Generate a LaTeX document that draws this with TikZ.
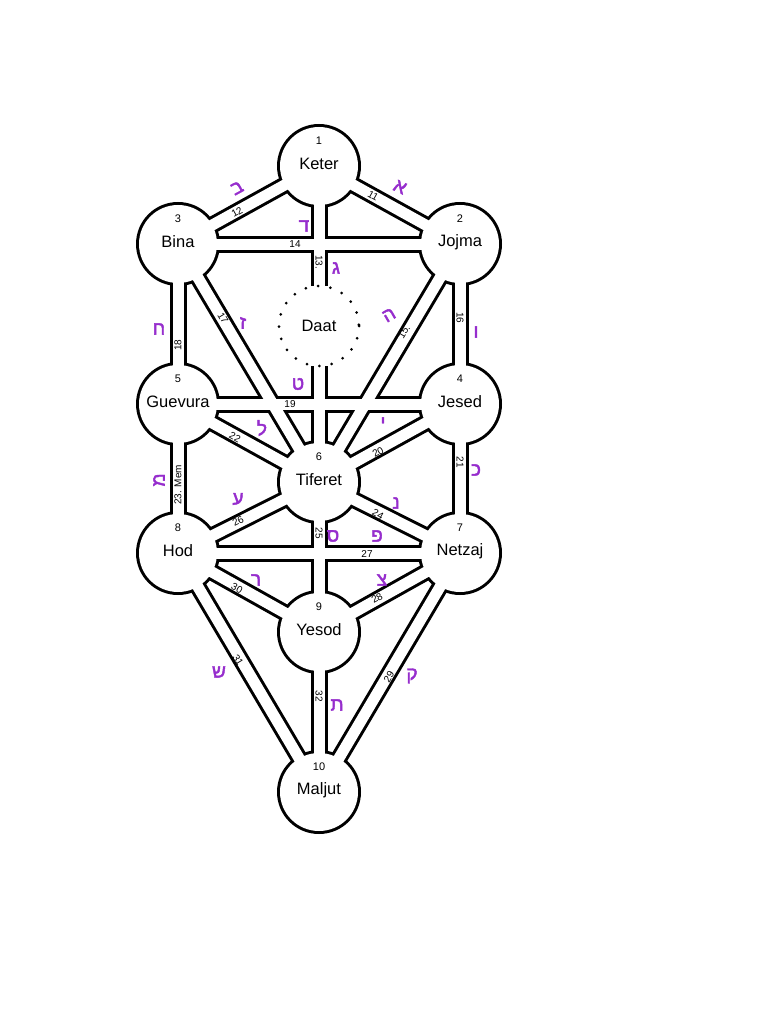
\documentclass[tikz,border=0pt]{standalone}
\usepackage{fontspec}
\setmainfont{Liberation Sans}
\newfontfamily\hebfont[Script=Hebrew, FakeBold=2.2]{Liberation Sans}
\TeXXeTstate=1
\usetikzlibrary{positioning}

\definecolor{letterpurple}{RGB}{150,45,205}

\begin{document}
\begin{tikzpicture}[
  x=1pt, y=-1pt,
  wall/.style={line width=17pt, draw=black},
  hollow/.style={line width=11pt, draw=white},
  sefname/.style={font=\fontsize{16.5}{18}\selectfont, inner sep=0pt},
  sefnum/.style={font=\fontsize{11}{12}\selectfont, inner sep=0pt},
  pathnum/.style={font=\fontsize{10}{12}\selectfont, inner sep=0pt},
  letter/.style={font=\hebfont\fontsize{19}{20}\selectfont,
    text=letterpurple, inner sep=0pt}
]
  % Page
  \fill[white] (0,0) rectangle (768,1024);

  % Sefirot
  \coordinate (keter)   at (319,166);
  \coordinate (bina)    at (178,244);
  \coordinate (jojma)   at (460,244);
  \coordinate (daat)    at (319,326);
  \coordinate (daatN)   at (319,286);
  \coordinate (daatS)   at (319,366);
  \coordinate (guevura) at (178,404);
  \coordinate (jesed)   at (460,404);
  \coordinate (tiferet) at (319,482);
  \coordinate (hod)     at (178,553);
  \coordinate (netzaj)  at (460,553);
  \coordinate (yesod)   at (319,632);
  \coordinate (maljut)  at (319,792);

  % Channels: black pass, then white pass
  \foreach \a/\b in {keter/jojma, keter/bina, keter/daatN, daatS/tiferet,
      bina/jojma, jojma/tiferet, jojma/jesed, bina/tiferet, bina/guevura,
      guevura/jesed, jesed/tiferet, jesed/netzaj, guevura/tiferet,
      guevura/hod, tiferet/netzaj, tiferet/yesod, tiferet/hod, hod/netzaj,
      netzaj/yesod, netzaj/maljut, hod/yesod, hod/maljut, yesod/maljut}
    \draw[wall] (\a) -- (\b);
  \foreach \s in {keter, bina, jojma, guevura, jesed, tiferet, hod, netzaj,
      yesod, maljut}
    \fill[black] (\s) circle (42);
  \foreach \a/\b in {keter/jojma, keter/bina, keter/daatN, daatS/tiferet,
      bina/jojma, jojma/tiferet, jojma/jesed, bina/tiferet, bina/guevura,
      guevura/jesed, jesed/tiferet, jesed/netzaj, guevura/tiferet,
      guevura/hod, tiferet/netzaj, tiferet/yesod, tiferet/hod, hod/netzaj,
      netzaj/yesod, netzaj/maljut, hod/yesod, hod/maljut, yesod/maljut}
    \draw[hollow] (\a) -- (\b);
  \foreach \s in {keter, bina, jojma, guevura, jesed, tiferet, hod, netzaj,
      yesod, maljut}
    \fill[white] (\s) circle (39);

  % Daat
  \draw[line width=3pt, dash pattern=on 0pt off 12.5pt, line cap=round]
    (daat) circle (40);

  % Names and numbers
  \foreach \s/\t/\n in {keter/Keter/1, jojma/Jojma/2, bina/Bina/3,
      jesed/Jesed/4, guevura/Guevura/5, tiferet/Tiferet/6, netzaj/Netzaj/7,
      hod/Hod/8, yesod/Yesod/9, maljut/Maljut/10} {
    \node[sefname, yshift=2pt] (\s-name) at (\s) {\t};
    \node[sefnum, yshift=25pt] (\s-num) at (\s) {\n};
  }
  \node[sefname] (daat-name) at (daat) {Daat};

  % Path numbers
  \foreach \n/\t/\x/\y/\r in {11/11/373/196/-29, 12/12/237/212/29,
      13/13./319/262/-90, 14/14/295/244/0, 15/15./404/332/59,
      16/16/460/318/-90, 17/17/223/318/-59, 18/18/178/345/90,
      19/19/290/404/0, 20/20/378/452/29, 21/21/460/462/-90,
      22/22/235/437/-29, 23/23. Mem/178/485/90, 24/24/378/514/-29,
      25/25/319/533/-90, 26/26/238/521/27, 27/27/367/554/0,
      28/28/377/598/29, 29/29/389/677/59, 30/30/237/588/-29,
      31/31/238/660/-59, 32/32/319/696/-90}
    \node[pathnum, rotate=\r] (p\n) at (\x,\y) {\t};

  % Letters
  \foreach \n/\h/\x/\y/\r in {11/א/400/187/-25, 12/ב/237/188/29,
      13/ג/336/268/0, 14/ד/304/226/0, 15/ה/389/315/30, 16/ו/476/332/0,
      17/ז/243/323/0, 18/ח/159/329/0, 19/ט/298/384/0, 20/י/383/423/0,
      21/כ/476/470/0, 22/ל/262/428/0, 23/מ/159/480/90, 24/נ/396/503/0,
      25/ס/333/536/0, 26/ע/238/499/0, 27/פ/377/536/0, 28/צ/382/580/0,
      29/ק/412/676/0, 30/ר/256/580/0, 31/ש/219/672/0, 32/ת/337/705/0}
    \node[letter, rotate=\r] (h\n) at (\x,\y) {\beginR\h\endR};
\end{tikzpicture}
\end{document}
